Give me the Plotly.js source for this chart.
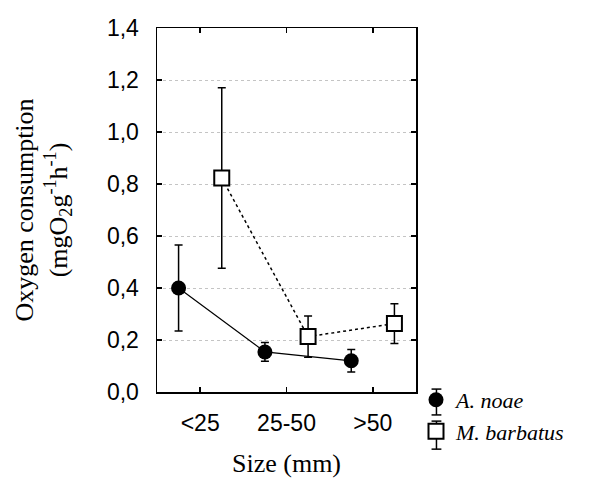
<!DOCTYPE html>
<html>
<head>
<meta charset="utf-8">
<script src="https://cdn.plot.ly/plotly-3.0.1.min.js"></script>
<style>html,body{margin:0;padding:0;background:#fff;}#chart{width:599px;height:485px;}</style>
</head>
<body>
<div id="chart"></div>
<script>
const categories = ['<25', '25-50', '>50'];
const noaeMean = [0.40, 0.154, 0.12];
const noaeErr = [0.165, 0.036, 0.043];
const barbatusMean = [0.823, 0.213, 0.263];
const barbatusErr = [0.347, 0.079, 0.076];
const yTicks = [0, 0.2, 0.4, 0.6, 0.8, 1.0, 1.2, 1.4];

const offset = 0.25;
const idx = categories.map((c, i) => i);

const traces = [
  {
    name: 'A. noae', showlegend: false,
    x: idx.map(i => i - offset), y: noaeMean,
    mode: 'lines', line: {color: '#000', width: 1.2}, hoverinfo: 'skip'
  },
  {
    name: 'M. barbatus', showlegend: false,
    x: idx.map(i => i + offset), y: barbatusMean,
    mode: 'lines', line: {color: '#000', width: 1.5, dash: 'dot'}, hoverinfo: 'skip'
  },
  {
    name: 'A. noae',
    x: idx.map(i => i - offset), y: noaeMean,
    mode: 'markers',
    marker: {symbol: 'circle', size: 15, color: '#000'},
    error_y: {type: 'data', array: noaeErr, visible: true, color: '#000', thickness: 1.5, width: 4}
  },
  {
    name: 'M. barbatus',
    x: idx.map(i => i + offset), y: barbatusMean,
    mode: 'markers',
    marker: {symbol: 'square', size: 15, color: '#fff', line: {color: '#000', width: 2}},
    error_y: {type: 'data', array: barbatusErr, visible: true, color: '#000', thickness: 1.5, width: 4}
  }
];

// small error-bar glyphs drawn behind the legend symbols
const gx = 1.079, gw = 0.019;
const legendGlyph = (yTop, yBot) => ([
  {type: 'line', xref: 'paper', yref: 'paper', layer: 'below', x0: gx, x1: gx, y0: yTop, y1: yBot, line: {color: '#000', width: 1.5}},
  {type: 'line', xref: 'paper', yref: 'paper', x0: gx - gw, x1: gx + gw, y0: yTop, y1: yTop, line: {color: '#000', width: 1.5}},
  {type: 'line', xref: 'paper', yref: 'paper', x0: gx - gw, x1: gx + gw, y0: yBot, y1: yBot, line: {color: '#000', width: 1.5}}
]);

const layout = {
  width: 599, height: 485,
  margin: {l: 157, r: 183, t: 28, b: 93},
  paper_bgcolor: '#fff', plot_bgcolor: '#fff',
  separators: ',.',
  showlegend: true,
  legend: {
    x: 1.0, xanchor: 'left', y: 0.036, yanchor: 'top',
    font: {family: 'Liberation Serif', size: 22, color: '#000', style: 'italic'},
    tracegroupgap: 0, itemwidth: 30, bgcolor: 'rgba(0,0,0,0)'
  },
  shapes: [].concat(legendGlyph(0.008, -0.063), legendGlyph(-0.080, -0.157)),
  xaxis: {
    range: [-0.5, 2.5],
    tickmode: 'array', tickvals: idx, ticktext: categories,
    ticks: 'inside', ticklen: 5, tickwidth: 1.5, tickcolor: '#000',
    showline: true, linecolor: '#000', linewidth: 1.5, mirror: 'allticks',
    showgrid: false, zeroline: false,
    tickfont: {family: 'Liberation Sans', size: 23, color: '#000'},
    ticklabelstandoff: 10,
    title: {text: 'Size (mm)', font: {family: 'Liberation Serif', size: 26, color: '#000'}, standoff: 18}
  },
  yaxis: {
    range: [0, 1.4],
    tickmode: 'array', tickvals: yTicks, tickformat: '.1f',
    ticks: 'inside', ticklen: 5, tickwidth: 1.5, tickcolor: '#000',
    showline: true, linecolor: '#000', linewidth: 1.5, mirror: 'allticks',
    showgrid: true, gridcolor: '#c4c4c4', griddash: 'dot', gridwidth: 1,
    zeroline: false,
    tickfont: {family: 'Liberation Sans', size: 23, color: '#000'},
    ticklabelstandoff: 12,
    title: {text: 'Oxygen consumption<br>(mgO<sub>2</sub>g<sup>-1</sup>h<sup>-1</sup>)', font: {family: 'Liberation Serif', size: 26, color: '#000'}, standoff: 32}
  }
};

Plotly.newPlot('chart', traces, layout, {displayModeBar: false, staticPlot: true});
</script>
</body>
</html>
